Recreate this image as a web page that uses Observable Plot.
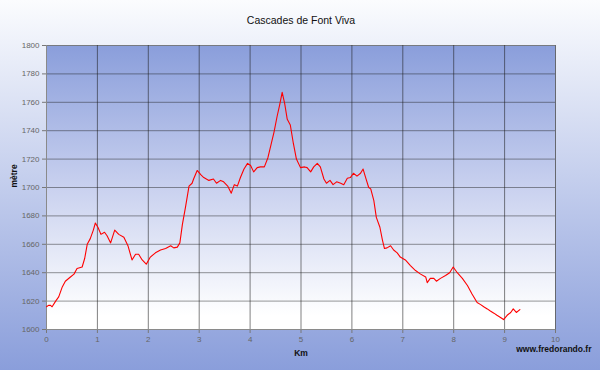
<!DOCTYPE html>
<html>
<head>
<meta charset="utf-8">
<script src="https://cdn.jsdelivr.net/npm/d3@7"></script>
<script src="https://cdn.jsdelivr.net/npm/@observablehq/plot@0.6"></script>
<style>
  html, body { margin: 0; padding: 0; }
  body { width: 600px; height: 370px; overflow: hidden; }
</style>
</head>
<body>
<script>
const title = "Cascades de Font Viva";
const xLabel = "Km";
const yLabel = "mètre";
const credit = "www.fredorando.fr";

const xTicks = [0, 1, 2, 3, 4, 5, 6, 7, 8, 9, 10];
const yTicks = [1600, 1620, 1640, 1660, 1680, 1700, 1720, 1740, 1760, 1780, 1800];

const km = [0.00, 0.04, 0.08, 0.11, 0.18, 0.24, 0.31, 0.37, 0.47, 0.54, 0.60, 0.70, 0.75, 0.80, 0.86, 0.92, 0.96,
  1.01, 1.07, 1.14, 1.19, 1.26, 1.34, 1.42, 1.52, 1.60, 1.68, 1.75, 1.81, 1.88, 1.96,
  2.04, 2.14, 2.24, 2.34, 2.44, 2.50, 2.57, 2.62, 2.67, 2.73, 2.80, 2.86, 2.89, 2.96,
  3.03, 3.09, 3.19, 3.28, 3.34, 3.42, 3.48, 3.56, 3.63, 3.69, 3.75, 3.81, 3.88, 3.95,
  4.01, 4.07, 4.14, 4.20, 4.28, 4.35, 4.41, 4.47, 4.53, 4.58, 4.63, 4.68, 4.73, 4.79, 4.85, 4.91, 4.99,
  5.07, 5.12, 5.19, 5.25, 5.32, 5.38, 5.45, 5.50, 5.57, 5.63, 5.70, 5.78, 5.84, 5.91, 5.97,
  6.03, 6.10, 6.17, 6.22, 6.27, 6.33, 6.37, 6.43, 6.48, 6.55, 6.60, 6.64, 6.69, 6.76, 6.82, 6.89, 6.95,
  7.05, 7.15, 7.25, 7.35, 7.45, 7.48, 7.54, 7.61, 7.66, 7.74, 7.84, 7.92, 7.99,
  8.07, 8.17, 8.27, 8.36, 8.46, 8.53, 8.59, 8.66, 8.72, 8.79, 8.85, 8.92, 8.98,
  9.05, 9.12, 9.17, 9.23, 9.30];

const altitude = [1616, 1617, 1617, 1616, 1620, 1623, 1630, 1634, 1637, 1639, 1643, 1644, 1650, 1660, 1664, 1670, 1675,
  1672, 1667, 1668.5, 1666, 1661, 1670, 1667, 1665, 1659, 1649, 1653, 1653, 1649, 1646,
  1651, 1654, 1656, 1657, 1659, 1657.5, 1658, 1661, 1674, 1686, 1701, 1703, 1706, 1712,
  1709, 1707, 1705, 1706, 1703, 1705, 1704, 1701, 1696, 1702, 1701, 1707, 1713, 1717,
  1715.5, 1711, 1714, 1714.5, 1714.5, 1721, 1730, 1739, 1750, 1758, 1767, 1759, 1748, 1744, 1731, 1720, 1714,
  1714.5, 1714, 1711, 1714.5, 1717, 1714.5, 1706, 1703, 1705, 1702, 1704, 1703, 1702, 1706.5, 1707,
  1710, 1708, 1710, 1713, 1707, 1700, 1699, 1691, 1679, 1672, 1663, 1657, 1657.5, 1659, 1656, 1654, 1651,
  1649, 1645, 1641.5, 1639, 1637, 1633, 1636, 1636, 1634, 1636, 1638, 1640, 1644,
  1640, 1636, 1631, 1625, 1619, 1617.5, 1616, 1614.5, 1613, 1611.5, 1610, 1608.5, 1607,
  1610, 1612, 1614.5, 1612, 1614];

const data = km.map((k, i) => ({km: k, alt: altitude[i]}));

const chart = Plot.plot({
  width: 600,
  height: 370,
  marginLeft: 46,
  marginRight: 45,
  marginTop: 45,
  marginBottom: 41,
  style: {
    background: "linear-gradient(to bottom, #fbfcfe 0%, #8a9edb 100%)",
    fontFamily: "'Liberation Sans', Arial, sans-serif",
    fontSize: "8px",
    overflow: "visible"
  },
  x: {domain: [0, 10], label: null},
  y: {domain: [1600, 1800], label: null},
  marks: [
    Plot.frame({fill: "url(#plotgrad)", stroke: "#c4c8d4"}),
    Plot.gridX(xTicks, {stroke: "#1a1a1a", strokeOpacity: 0.55}),
    Plot.gridY(yTicks, {stroke: "#1a1a1a", strokeOpacity: 0.45}),
    Plot.axisX(xTicks, {tickSize: 4, tickPadding: 3, stroke: "#777", fill: "#666", fontSize: 8, tickFormat: d => String(d)}),
    Plot.axisY(yTicks, {tickSize: 4, tickPadding: 3, stroke: "#777", fill: "#666", fontSize: 8, tickFormat: d => String(d)}),
    Plot.ruleX([0], {stroke: "#8a8a8a"}),
    Plot.ruleY([1600], {stroke: "#8a8a8a"}),
    Plot.line(data, {x: "km", y: "alt", stroke: "#ff0000", strokeWidth: 1.1}),
    Plot.text([title], {text: d => d, frameAnchor: "top", dy: -29, fontSize: 10.5, fill: "#111"}),
    Plot.text([xLabel], {text: d => d, frameAnchor: "bottom", dy: 26, fontSize: 8.5, fontWeight: "bold", fill: "#111"}),
    Plot.text([yLabel], {text: d => d, frameAnchor: "left", dx: -32, rotate: -90, fontSize: 8.5, fontWeight: "bold", fill: "#111"}),
    Plot.text([credit], {text: d => d, frameAnchor: "bottom-right", textAnchor: "end", dx: 36, dy: 22, fontSize: 8.5, fontWeight: "bold", fill: "#111"})
  ]
});

const defs = d3.create("svg:defs");
const grad = defs.append("linearGradient")
  .attr("id", "plotgrad").attr("x1", 0).attr("y1", 0).attr("x2", 0).attr("y2", 1);
grad.append("stop").attr("offset", "0%").attr("stop-color", "#8a9edb");
grad.append("stop").attr("offset", "50%").attr("stop-color", "#c9d1ef");
grad.append("stop").attr("offset", "95%").attr("stop-color", "#ffffff");
chart.insertBefore(defs.node(), chart.firstChild);

document.body.appendChild(chart);
</script>
</body>
</html>
